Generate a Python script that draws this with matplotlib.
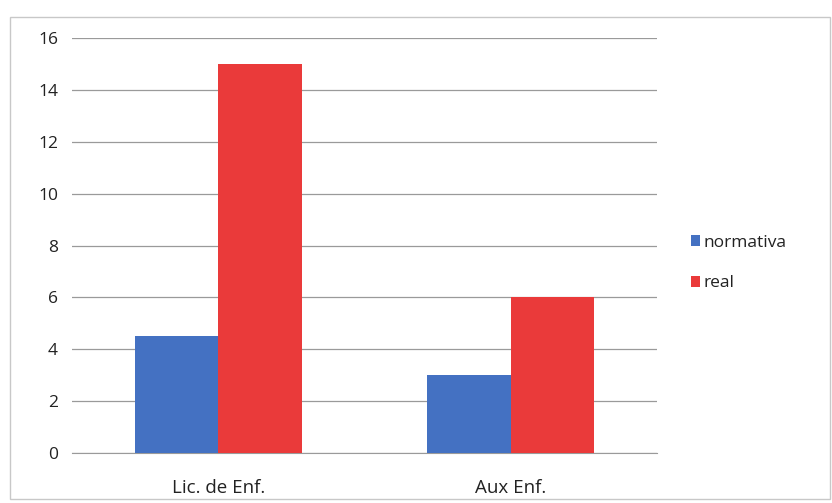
import numpy as np
import matplotlib
matplotlib.use('Agg')
import matplotlib.pyplot as plt
from matplotlib.patches import Rectangle

categories = ['Lic. de Enf.', 'Aux Enf.']
normativa = [4.5, 3]
real = [15, 6]
yticks = [0, 2, 4, 6, 8, 10, 12, 14, 16]

plt.rcParams['font.family'] = ['Open Sans', 'DejaVu Sans']

fig = plt.figure(figsize=(8.32, 5.03), dpi=100)
# outer chart frame
fig.patches.append(Rectangle((10/832, 4/503), 820/832, 482/503, transform=fig.transFigure,
                             fill=False, edgecolor='#c8c8c8', linewidth=1.0))
ax = fig.add_axes([72/832, 1 - 453/503, 585/832, 415/503])

x = np.arange(len(categories))
w = 1 / 3.5
ax.bar(x - w/2, normativa, w, color='#4471c2', label='normativa', zorder=3)
ax.bar(x + w/2, real, w, color='#ea3a3a', label='real', zorder=3)

ax.set_xlim(-0.5, 1.5)
ax.set_ylim(0, 16)
ax.set_yticks(yticks)
ax.set_xticks(x)
ax.set_xticklabels(categories)
ax.yaxis.grid(True, color='#9a9a9a', linewidth=0.9, zorder=0)
for s in ['top', 'right', 'left']:
    ax.spines[s].set_visible(False)
ax.spines['bottom'].set_color('#9a9a9a')
ax.tick_params(axis='both', length=0, labelsize=12.5, colors='#222222')
ax.tick_params(axis='x', labelsize=13.5, pad=19)
ax.tick_params(axis='y', pad=10)

fig.legend(loc='center left', bbox_to_anchor=(675/832, 1 - 263/503), frameon=False,
           fontsize=12.5, handlelength=0.55, handleheight=0.6, handletextpad=0.2,
           labelspacing=1.4, labelcolor='#222222')

plt.savefig('out.png', dpi=100)
